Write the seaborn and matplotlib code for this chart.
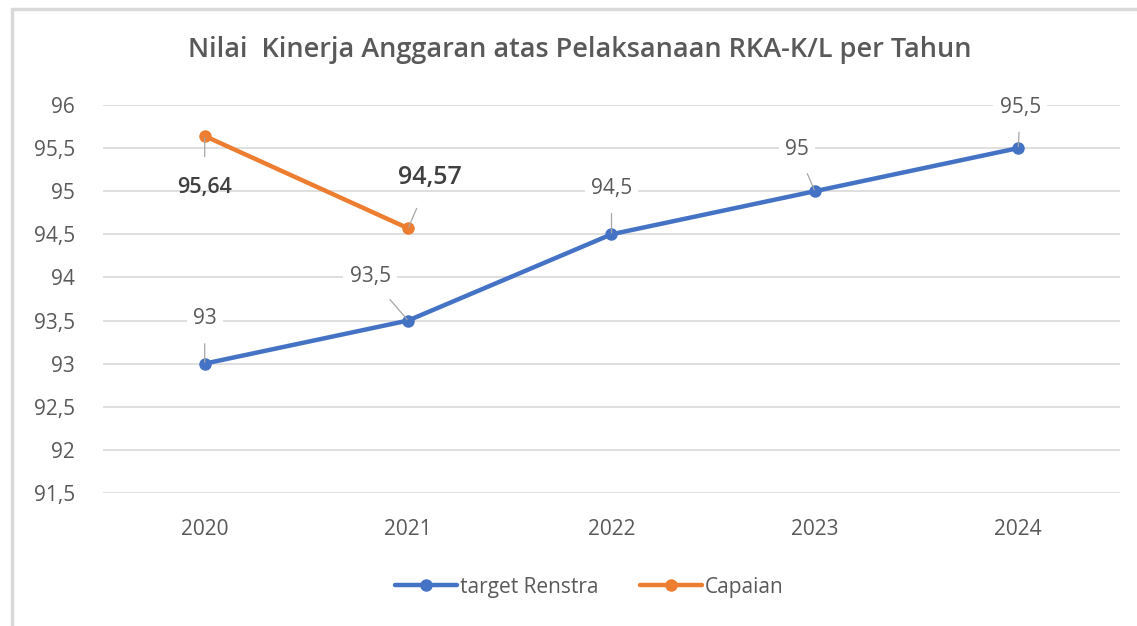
import numpy as np
import pandas as pd
import matplotlib
matplotlib.use("Agg")
import matplotlib.pyplot as plt
import seaborn as sns
from matplotlib.lines import Line2D
from matplotlib.patches import Rectangle

# -------------------
# DATA
# -------------------
years = ["2020", "2021", "2022", "2023", "2024"]
target_renstra = [93, 93.5, 94.5, 95, 95.5]
capaian_years = ["2020", "2021"]
capaian = [95.64, 94.57]
yticks = [91.5, 92, 92.5, 93, 93.5, 94, 94.5, 95, 95.5, 96]

TITLE = "Nilai  Kinerja Anggaran atas Pelaksanaan RKA-K/L per Tahun"
BLUE = "#4472C4"
ORANGE = "#ED7D31"
GREY = "#595959"

def fmt(v):
    s = f"{v:g}"
    return s.replace(".", ",")

df_t = pd.DataFrame({"year": years, "value": target_renstra, "series": "target Renstra"})
df_c = pd.DataFrame({"year": capaian_years, "value": capaian, "series": "Capaian"})
df = pd.concat([df_t, df_c], ignore_index=True)

sns.set_style("white")
plt.rcParams["font.family"] = ["Open Sans", "DejaVu Sans"]

fig = plt.figure(figsize=(11.37, 6.26), dpi=100)
ax = fig.add_axes([0.0906, 0.2125, 0.8944, 0.6198])

# chart border
fig.patches.append(Rectangle((12 / 1137, -0.01), 1.02, 1 - 9 / 626 + 0.01,
                             transform=fig.transFigure, fill=False,
                             edgecolor="#D9D9D9", linewidth=2.5))

sns.lineplot(data=df, x="year", y="value", hue="series",
             palette={"target Renstra": BLUE, "Capaian": ORANGE},
             marker="o", markersize=9, markeredgewidth=0, linewidth=3.2,
             sort=False, legend=False, ax=ax)

ax.set_xlim(-0.5, 4.5)
ax.set_ylim(91.5, 96)
ax.set_yticks(yticks)
ax.set_yticklabels([fmt(v) for v in yticks])
ax.yaxis.grid(True, color="#D9D9D9", linewidth=1.2)
ax.set_axisbelow(True)
for s in ax.spines.values():
    s.set_visible(False)
ax.tick_params(axis="both", length=0, labelsize=15, labelcolor=GREY)
ax.tick_params(axis="y", pad=20)
ax.tick_params(axis="x", pad=19)
ax.set_xlabel("")
ax.set_ylabel("")

# data labels with leader lines (offsets in pixels)
t_off = [(0, 45), (-38, 44), (0, 46), (-18, 42), (2, 41)]
for i, v in enumerate(target_renstra):
    ax.annotate(fmt(v), xy=(i, v), xytext=t_off[i], textcoords="offset pixels",
                ha="center", va="center", fontsize=15, color=GREY,
                bbox=dict(boxstyle="square,pad=0.3", fc="white", ec="none"),
                arrowprops=dict(arrowstyle="-", color="#A6A6A6", lw=0.9,
                                shrinkA=6, shrinkB=1))
c_off = [(0, -51), (22, 51)]
c_size = [15.5, 18]
for i, v in enumerate(capaian):
    ax.annotate(fmt(v), xy=(i, v), xytext=c_off[i], textcoords="offset pixels",
                ha="center", va="center", fontsize=c_size[i], color="#404040",
                fontweight="semibold",
                arrowprops=dict(arrowstyle="-", color="#A6A6A6", lw=0.9,
                                shrinkA=12, shrinkB=1))

fig.text(0.51, 1 - 50 / 626, TITLE, ha="center", va="center",
         fontsize=19.5, fontweight="semibold", color=GREY)

handles = [Line2D([], [], color=BLUE, lw=3.2, marker="o", markersize=9, markeredgewidth=0),
           Line2D([], [], color=ORANGE, lw=3.2, marker="o", markersize=9, markeredgewidth=0)]
fig.legend(handles, ["target Renstra", "Capaian"], loc="center",
           bbox_to_anchor=(0.518, 1 - 587 / 626), ncol=2, frameon=False,
           fontsize=15, labelcolor=GREY, handlelength=3.0, handletextpad=0.1,
           columnspacing=2.0)

fig.savefig("out.png", dpi=100)
